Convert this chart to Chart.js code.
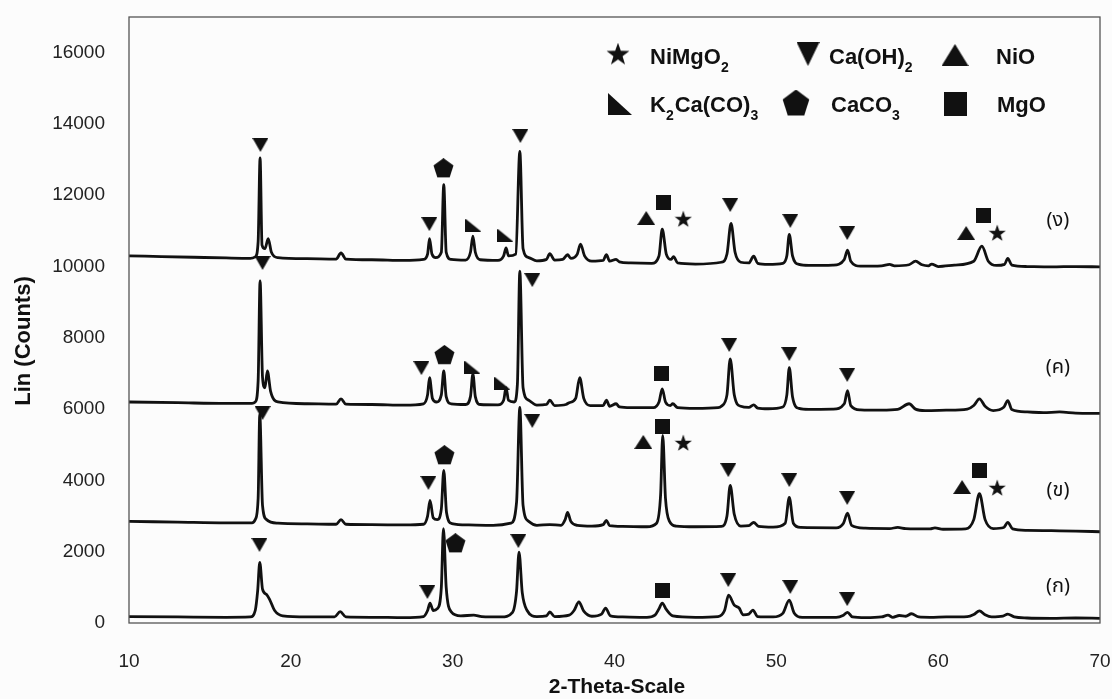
<!DOCTYPE html>
<html>
<head>
<meta charset="utf-8">
<title>XRD patterns</title>
<script src="https://cdn.jsdelivr.net/npm/chart.js@4.4.1/dist/chart.umd.min.js"></script>
<style>
  html, body { margin: 0; padding: 0; background: #fcfcfc; }
  #wrap { width: 1112px; height: 699px; }
</style>
</head>
<body>
<div id="wrap"><canvas id="xrdChart" width="1112" height="699"></canvas></div>
<script>
// ---- axis ticks ----
const xTicks = [10, 20, 30, 40, 50, 60, 70];
const yTicks = [0, 2000, 4000, 6000, 8000, 10000, 12000, 14000, 16000];

// ---- diffraction patterns, [2theta, counts] (offset stack, bottom to top) ----
const traceA = [ // (ก)
  [10, 180], [13, 170], [16, 160], [17.5, 170], [17.8, 350], [17.95, 900], [18.08, 1700], [18.25, 950],
  [18.5, 800], [18.7, 650], [19.0, 350], [19.5, 200], [21, 170], [22.7, 170], [23.05, 320], [23.4, 170],
  [25, 160], [27, 150], [28.2, 180], [28.45, 350], [28.6, 560], [28.8, 350], [29.05, 400], [29.3, 1000],
  [29.43, 2650], [29.6, 1000], [29.9, 320], [30.5, 200], [31.3, 220], [31.8, 180], [33, 170], [33.7, 300],
  [33.95, 900], [34.1, 1990], [34.3, 850], [34.6, 350], [35.2, 180], [35.8, 200], [36.0, 310], [36.3, 180],
  [37.2, 220], [37.5, 350], [37.8, 590], [38.1, 330], [38.6, 190], [39.2, 250], [39.45, 420], [39.75, 200],
  [40.5, 170], [42, 160], [42.5, 220], [42.75, 400], [42.95, 560], [43.2, 380], [43.6, 200], [45, 160],
  [46.4, 180], [46.8, 350], [47.05, 780], [47.4, 500], [47.7, 420], [47.95, 230], [48.3, 250], [48.55, 360],
  [48.85, 180], [49.8, 170], [50.4, 270], [50.8, 640], [51.1, 280], [51.6, 160], [53.7, 160], [54.15, 220],
  [54.4, 300], [54.7, 170], [55.5, 150], [56.5, 170], [56.9, 220], [57.2, 160], [57.6, 210], [58.0, 190],
  [58.35, 260], [58.8, 170], [59.5, 160], [60.5, 170], [61.8, 180], [62.2, 240], [62.55, 340], [62.9, 230],
  [63.3, 170], [64.0, 190], [64.3, 250], [64.7, 170], [65.5, 140], [67, 130], [68.5, 140], [70, 130]
];

const traceB = [ // (ข)
  [10, 2850], [13, 2830], [16, 2810], [17.6, 2810], [17.8, 2900], [17.98, 3500], [18.08, 5850], [18.25, 3300],
  [18.5, 2900], [19.2, 2800], [21, 2780], [22.8, 2770], [23.1, 2900], [23.4, 2770], [25, 2760], [27, 2750],
  [28.2, 2770], [28.45, 3000], [28.6, 3440], [28.8, 2950], [29.05, 2900], [29.3, 3200], [29.45, 4280],
  [29.62, 3100], [29.95, 2790], [31, 2750], [32.5, 2740], [33.6, 2800], [33.95, 3400], [34.15, 6050],
  [34.35, 3300], [34.7, 2850], [35.2, 2740], [36.0, 2760], [36.7, 2740], [36.95, 2900], [37.1, 3100],
  [37.3, 2850], [37.7, 2740], [38.6, 2720], [39.3, 2760], [39.5, 2880], [39.7, 2730], [40.5, 2710],
  [42, 2700], [42.6, 2800], [42.85, 3600], [42.98, 5260], [43.15, 3500], [43.4, 2850], [43.8, 2720],
  [45, 2700], [46.6, 2710], [46.95, 3000], [47.15, 3860], [47.4, 3050], [47.8, 2720], [48.3, 2730],
  [48.6, 2820], [48.9, 2710], [49.8, 2690], [50.55, 2800], [50.8, 3520], [51.05, 2800], [51.5, 2680],
  [53.7, 2670], [54.15, 2800], [54.4, 3080], [54.65, 2740], [55.5, 2660], [57, 2650], [57.5, 2680],
  [58, 2650], [59.5, 2640], [59.8, 2670], [60.3, 2630], [61.7, 2640], [62.2, 2900], [62.55, 3630],
  [62.9, 2900], [63.4, 2650], [64.05, 2680], [64.3, 2820], [64.6, 2640], [65.5, 2600], [67, 2590],
  [68.5, 2580], [70, 2560]
];

const traceC = [ // (ค)
  [10, 6200], [13, 6180], [16, 6160], [17.6, 6160], [17.8, 6200], [17.98, 6800], [18.1, 9600], [18.25, 6900],
  [18.4, 6600], [18.55, 7070], [18.75, 6500], [19.2, 6200], [21, 6150], [22.8, 6140], [23.1, 6290],
  [23.4, 6140], [25, 6130], [27, 6110], [28.2, 6150], [28.45, 6400], [28.57, 6880], [28.75, 6300],
  [29.0, 6200], [29.3, 6400], [29.45, 7070], [29.6, 6350], [29.9, 6150], [30.8, 6130], [31.1, 6350],
  [31.25, 6990], [31.4, 6350], [31.7, 6130], [32.8, 6120], [33.15, 6250], [33.3, 6600], [33.45, 6250],
  [33.8, 6200], [34.0, 6700], [34.15, 9870], [34.35, 6600], [34.7, 6250], [35.2, 6110], [35.8, 6130],
  [36.0, 6250], [36.3, 6100], [37.0, 6130], [37.2, 6180], [37.6, 6300], [37.85, 6880], [38.1, 6300],
  [38.5, 6100], [39.3, 6100], [39.5, 6250], [39.7, 6080], [40.1, 6150], [40.3, 6060], [41, 6040],
  [42.4, 6040], [42.75, 6200], [42.95, 6570], [43.15, 6200], [43.45, 6100], [43.6, 6150], [43.9, 6040],
  [45, 6020], [46.4, 6040], [46.6, 6080], [46.95, 6400], [47.15, 7410], [47.4, 6400], [47.8, 6080],
  [48.3, 6050], [48.6, 6120], [48.85, 6030], [49.5, 6010], [50.4, 6060], [50.65, 6400], [50.8, 7160],
  [51.0, 6350], [51.4, 6020], [52, 5990], [53.5, 6000], [54.2, 6150], [54.4, 6520], [54.6, 6100],
  [55.2, 5980], [56.5, 5970], [57.5, 5990], [58.2, 6150], [58.6, 6000], [59.2, 5960], [60.5, 5970],
  [61.8, 6000], [62.2, 6100], [62.55, 6290], [62.9, 6080], [63.4, 5960], [64.05, 6050], [64.3, 6240],
  [64.55, 5990], [65.5, 5920], [66.5, 5900], [67.5, 5920], [68.5, 5890], [70, 5880]
];

const traceD = [ // (ง)
  [10, 10300], [12, 10280], [14, 10260], [16, 10240], [17.5, 10230], [17.8, 10270], [17.98, 10700],
  [18.1, 13050], [18.22, 10600], [18.4, 10500], [18.6, 10780], [18.8, 10400], [19.2, 10250], [21, 10220],
  [22.8, 10210], [23.1, 10380], [23.4, 10210], [25, 10190], [27, 10170], [28.2, 10200], [28.45, 10350],
  [28.57, 10780], [28.72, 10350], [28.95, 10250], [29.3, 10400], [29.45, 12300], [29.6, 10400],
  [29.9, 10200], [30.8, 10180], [31.1, 10400], [31.25, 10850], [31.4, 10400], [31.7, 10190],
  [32.8, 10170], [33.15, 10300], [33.3, 10520], [33.45, 10300], [33.9, 10350], [34.15, 13230],
  [34.35, 10500], [34.7, 10250], [35.2, 10160], [35.8, 10200], [36.0, 10360], [36.3, 10180], [36.8, 10200],
  [37.1, 10330], [37.3, 10230], [37.7, 10350], [37.9, 10630], [38.15, 10300], [38.6, 10150], [39.3, 10170],
  [39.5, 10330], [39.7, 10150], [40.1, 10200], [40.3, 10130], [41, 10100], [42.3, 10090], [42.75, 10300],
  [42.95, 11050], [43.2, 10350], [43.5, 10200], [43.65, 10280], [43.9, 10100], [45, 10070], [46.6, 10120],
  [46.95, 10350], [47.2, 11210], [47.45, 10400], [47.8, 10120], [48.3, 10100], [48.6, 10290], [48.85, 10090],
  [49.5, 10060], [50.4, 10090], [50.65, 10300], [50.8, 10900], [51.0, 10300], [51.4, 10060], [52, 10030],
  [53.5, 10040], [54.2, 10200], [54.4, 10460], [54.6, 10150], [55.2, 10010], [56.5, 10020], [57.0, 10060],
  [57.3, 10020], [58.2, 10050], [58.6, 10150], [59, 10050], [59.4, 10020], [59.6, 10070], [60, 10000],
  [61, 10040], [62.2, 10150], [62.7, 10570], [63.1, 10150], [63.6, 10030], [64.1, 10060], [64.3, 10230],
  [64.55, 10040], [65.5, 10000], [67, 9990], [68.5, 10000], [70, 9990]
];

// ---- phase markers, [2theta, counts] ----
const caOH2Peaks = [
  [18.12, 13410], [28.56, 11190], [34.18, 13660], [47.15, 11725], [50.86, 11280], [54.38, 10940],
  [18.25, 10100], [28.07, 7150], [34.92, 9620], [47.09, 7800], [50.8, 7545], [54.38, 6960],
  [18.25, 5890], [28.5, 3930], [34.92, 5670], [47.03, 4290], [50.8, 4010], [54.38, 3510],
  [18.06, 2190], [28.44, 870], [34.06, 2300], [47.03, 1205], [50.86, 1010], [54.38, 670]
];
const caco3Peaks = [[29.43, 12760], [29.49, 7520], [29.49, 4710], [30.17, 2240]];
const k2caco3Peaks = [[31.28, 11160], [33.26, 10880], [31.22, 7180], [33.07, 6730]];
const nioPeaks = [[41.96, 11360], [61.73, 10940], [41.78, 5080], [61.48, 3815]];
const mgoPeaks = [[43.01, 11810], [62.78, 11445], [42.89, 7010], [42.95, 5500], [62.53, 4265], [42.95, 900]];
const nimgo2Peaks = [[44.25, 11330], [63.65, 10940], [44.25, 5050], [63.65, 3790]];

// ---- sample tags at the right of each pattern ----
const sampleTags = ["(ง)", "(ค)", "(ข)", "(ก)"];
const sampleTagX = 67.4;
const sampleTagY = [11250, 7125, 3675, 980];

const INK = "#111";
const SANS = "'Liberation Sans', Arial, sans-serif";

/* ================================================================
   MARKER SHAPES (drawn once into small canvases)
   ================================================================ */
function makeMarker(shape, w, h) {
  const c = document.createElement("canvas");
  c.width = w;
  c.height = h;
  const g = c.getContext("2d");
  g.fillStyle = INK;
  g.beginPath();
  if (shape === "down") {
    g.moveTo(0, 0); g.lineTo(w, 0); g.lineTo(w / 2, h);
  } else if (shape === "up") {
    g.moveTo(w / 2, 0); g.lineTo(w, h); g.lineTo(0, h);
  } else if (shape === "corner") {
    g.moveTo(0, 0); g.lineTo(w, h); g.lineTo(0, h);
  } else if (shape === "square") {
    g.rect(0, 0, w, h);
  } else if (shape === "pentagon") {
    for (let i = 0; i < 5; i++) {
      const a = -Math.PI / 2 + i * 2 * Math.PI / 5;
      const px = w / 2 + Math.cos(a) * w / 2;
      const py = h * 0.53 + Math.sin(a) * h * 0.53;
      i === 0 ? g.moveTo(px, py) : g.lineTo(px, py);
    }
  } else if (shape === "star") {
    for (let i = 0; i < 10; i++) {
      const a = -Math.PI / 2 + i * Math.PI / 5;
      const r = i % 2 === 0 ? w / 2 : w * 0.2;
      const px = w / 2 + Math.cos(a) * r;
      const py = h * 0.53 + Math.sin(a) * r;
      i === 0 ? g.moveTo(px, py) : g.lineTo(px, py);
    }
  }
  g.closePath();
  g.fill();
  return c;
}

const plotMarks = {
  down: makeMarker("down", 16, 14),
  up: makeMarker("up", 18, 14),
  corner: makeMarker("corner", 16, 13),
  square: makeMarker("square", 15, 15),
  pentagon: makeMarker("pentagon", 21, 20),
  star: makeMarker("star", 18, 18)
};

const keyMarks = {
  down: makeMarker("down", 23, 24),
  up: makeMarker("up", 27, 22),
  corner: makeMarker("corner", 24, 22),
  square: makeMarker("square", 23, 24),
  pentagon: makeMarker("pentagon", 28, 27),
  star: makeMarker("star", 24, 23)
};

/* ================================================================
   DATASETS
   ================================================================ */
const toXY = arr => arr.map(p => ({ x: p[0], y: p[1] }));

function traceSet(label, pts) {
  return {
    type: "scatter",
    label,
    data: toXY(pts),
    showLine: true,
    borderColor: INK,
    borderWidth: 2.8,
    pointRadius: 0,
    cubicInterpolationMode: "monotone",
    order: 2
  };
}

function markerSet(label, pts, style) {
  return {
    type: "scatter",
    label,
    data: toXY(pts),
    showLine: false,
    pointStyle: style,
    pointRadius: 8,
    order: 1
  };
}

const datasets = [
  traceSet("(ก)", traceA),
  traceSet("(ข)", traceB),
  traceSet("(ค)", traceC),
  traceSet("(ง)", traceD),
  markerSet("Ca(OH)2", caOH2Peaks, plotMarks.down),
  markerSet("CaCO3", caco3Peaks, plotMarks.pentagon),
  markerSet("K2Ca(CO)3", k2caco3Peaks, plotMarks.corner),
  markerSet("NiO", nioPeaks, plotMarks.up),
  markerSet("MgO", mgoPeaks, plotMarks.square),
  markerSet("NiMgO2", nimgo2Peaks, plotMarks.star)
];

/* ================================================================
   DECORATION: frame, key, tags, axis titles
   ================================================================ */
function drawChem(ctx, x, y, parts) {
  // parts: [text, isSubscript]
  let cx = x;
  parts.forEach(([t, sub]) => {
    ctx.font = sub ? "bold 14px " + SANS : "bold 22px " + SANS;
    ctx.fillText(t, cx, sub ? y + 8 : y);
    cx += ctx.measureText(t).width + (sub ? 1 : 0);
  });
}

const keyRows = [
  { mark: "star", mx: 618, my: 54, tx: 650, ty: 64, parts: [["NiMgO", false], ["2", true]] },
  { mark: "down", mx: 808, my: 54, tx: 829, ty: 64, parts: [["Ca(OH)", false], ["2", true]] },
  { mark: "up", mx: 955, my: 55, tx: 996, ty: 64, parts: [["NiO", false]] },
  { mark: "corner", mx: 620, my: 104, tx: 650, ty: 112, parts: [["K", false], ["2", true], ["Ca(CO)", false], ["3", true]] },
  { mark: "pentagon", mx: 796, my: 103, tx: 831, ty: 112, parts: [["CaCO", false], ["3", true]] },
  { mark: "square", mx: 955, my: 104, tx: 997, ty: 112, parts: [["MgO", false]] }
];

const xrdDecor = {
  id: "xrdDecor",
  afterDraw(chart) {
    const { ctx, chartArea: a, scales } = chart;
    ctx.save();

    // plot frame
    ctx.strokeStyle = "#555";
    ctx.lineWidth = 1.3;
    ctx.strokeRect(a.left, a.top, a.right - a.left, a.bottom - a.top);

    // key
    ctx.fillStyle = INK;
    ctx.textAlign = "left";
    ctx.textBaseline = "alphabetic";
    keyRows.forEach(r => {
      const m = keyMarks[r.mark];
      ctx.drawImage(m, r.mx - m.width / 2, r.my - m.height / 2);
      drawChem(ctx, r.tx, r.ty, r.parts);
    });

    // sample tags
    ctx.font = "20px 'Noto Sans Thai', 'Noto Sans', 'DejaVu Sans', sans-serif";
    ctx.textAlign = "center";
    ctx.textBaseline = "middle";
    sampleTags.forEach((t, i) => {
      ctx.fillText(t, scales.x.getPixelForValue(sampleTagX), scales.y.getPixelForValue(sampleTagY[i]));
    });

    // axis titles
    ctx.font = "bold 21px " + SANS;
    ctx.fillText("2-Theta-Scale", 617, 687);
    ctx.translate(24, 341);
    ctx.rotate(-Math.PI / 2);
    ctx.font = "bold 22px " + SANS;
    ctx.fillText("Lin (Counts)", 0, 0);

    ctx.restore();
  }
};

/* ================================================================
   CHART
   ================================================================ */
const plainTick = v => String(v);

new Chart(document.getElementById("xrdChart"), {
  type: "scatter",
  data: { datasets },
  plugins: [xrdDecor],
  options: {
    responsive: false,
    animation: false,
    layout: { autoPadding: false, padding: { top: 17, right: 12, left: 0, bottom: 0 } },
    plugins: {
      legend: { display: false },
      tooltip: { enabled: false }
    },
    scales: {
      x: {
        type: "linear",
        min: 10,
        max: 70,
        afterBuildTicks: s => { s.ticks = xTicks.map(v => ({ value: v })); },
        afterFit: s => {
          s.height = 76;
          s.paddingLeft = 0;
          s.paddingRight = 0;
        },
        grid: { display: false, drawTicks: false },
        border: { display: false },
        ticks: { padding: 27, color: "#222", font: { family: SANS, size: 19 }, callback: plainTick }
      },
      y: {
        type: "linear",
        min: 0,
        max: 17000,
        afterBuildTicks: s => { s.ticks = yTicks.map(v => ({ value: v })); },
        afterFit: s => {
          s.width = 129;
          s.paddingTop = 0;
          s.paddingBottom = 0;
        },
        grid: { display: false, drawTicks: false },
        border: { display: false },
        ticks: { padding: 24, color: "#222", font: { family: SANS, size: 19 }, callback: plainTick }
      }
    }
  }
});
</script>
</body>
</html>
